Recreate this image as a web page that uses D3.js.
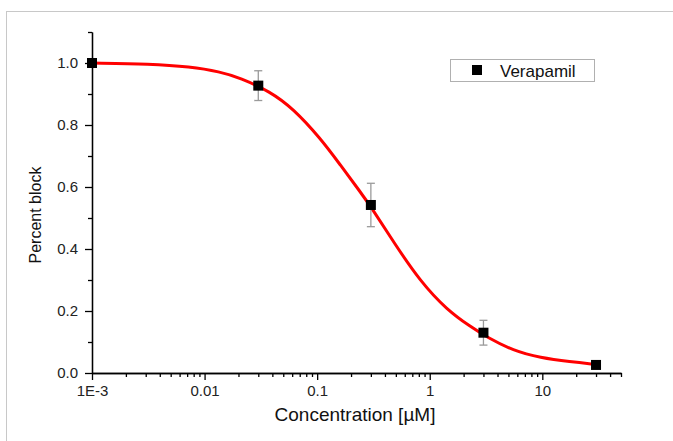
<!DOCTYPE html>
<html>
  <head>
    <meta charset="utf-8">
    <title>Verapamil block</title>
    <script src="https://d3js.org/d3.v7.min.js"></script>
    <style>
      body { margin: 0; background: #fff; }
      svg { font-family: "Liberation Sans", Arial, sans-serif; }
      .axis path, .axis line { stroke: #000; stroke-width: 1.3; }
      .axis text { font-size: 15px; fill: #222; }
      .title { font-size: 16px; fill: #111; }
    </style>
  </head>
  <body>
    <svg id="chart" width="673" height="441"></svg>
    <script>
      // measured points
      const conc = [0.001, 0.03, 0.3, 3, 30];
      const block = [1.0, 0.927, 0.542, 0.13, 0.026];
      const err = [0, 0.048, 0.07, 0.04, 0];
      // fitted curve
      const fitConc = [0.001, 0.0033, 0.0074, 0.0137, 0.0207, 0.0382, 0.0612, 0.1064, 0.16, 0.241, 0.315, 0.474, 0.824, 1.43, 2.29, 3.24, 5.52, 9.59, 17.7, 29.6];
      const fitBlock = [1.0, 0.997, 0.988, 0.972, 0.952, 0.908, 0.853, 0.758, 0.672, 0.585, 0.525, 0.424, 0.295, 0.203, 0.15, 0.115, 0.072, 0.049, 0.036, 0.028];
      // tick labels
      const xTicks = [0.001, 0.01, 0.1, 1, 10];
      const xTickLabels = ["1E-3", "0.01", "0.1", "1", "10"];
      const yTicks = [0, 0.2, 0.4, 0.6, 0.8, 1.0];

      const svg = d3.select("#chart");
      const margin = { left: 92, right: 52, top: 32, bottom: 68 };
      const width = 673, height = 441;

      // outer frame
      svg.append("rect")
        .attr("x", 6.5).attr("y", 11.5)
        .attr("width", 700).attr("height", 500)
        .attr("fill", "none").attr("stroke", "#c8c8c8");

      const x = d3.scaleLog()
        .domain([0.001, 50])
        .range([margin.left, width - margin.right]);
      const y = d3.scaleLinear()
        .domain([0, 1.1])
        .range([373, margin.top]);

      // minor ticks
      let xMinor = [];
      for (let e = -3; e <= 1; e++) {
        for (let m = 2; m <= 9; m++) {
          let v = m * Math.pow(10, e);
          if (v <= 50) xMinor.push(v);
        }
      }
      const yMinor = d3.range(1, 12, 2).map(function(d) { return d / 10; });

      svg.append("g")
        .attr("class", "axis")
        .attr("transform", "translate(0," + y(0) + ")")
        .call(d3.axisBottom(x).tickValues(xMinor).tickSize(4).tickFormat("").tickSizeOuter(0));
      svg.append("g")
        .attr("class", "axis")
        .attr("transform", "translate(0," + y(0) + ")")
        .call(d3.axisBottom(x).tickValues(xTicks).tickSize(7).tickPadding(5).tickSizeOuter(0)
          .tickFormat(function(d, i) { return xTickLabels[i]; }));
      svg.append("g")
        .attr("class", "axis")
        .attr("transform", "translate(" + margin.left + ",0)")
        .call(d3.axisLeft(y).tickValues(yMinor).tickSize(4).tickFormat("").tickSizeOuter(0));
      svg.append("g")
        .attr("class", "axis")
        .attr("transform", "translate(" + margin.left + ",0)")
        .call(d3.axisLeft(y).tickValues(yTicks).tickSize(7).tickPadding(7).tickSizeOuter(0)
          .tickFormat(d3.format(".1f")));

      // axis titles
      svg.append("text")
        .attr("class", "title")
        .attr("x", 355).attr("y", 421)
        .attr("text-anchor", "middle")
        .style("font-size", "19px")
        .text("Concentration [µM]");
      svg.append("text")
        .attr("class", "title")
        .attr("transform", "translate(41,215) rotate(-90)")
        .attr("text-anchor", "middle")
        .text("Percent block");

      // fit line
      const fit = fitConc.map(function(c, i) { return { c: c, b: fitBlock[i] }; });
      svg.append("path")
        .datum(fit)
        .attr("fill", "none")
        .attr("stroke", "#ff0000")
        .attr("stroke-width", 3)
        .attr("d", d3.line()
          .x(function(d) { return x(d.c); })
          .y(function(d) { return y(d.b); })
          .curve(d3.curveBasis));

      // error bars and markers
      const pts = conc.map(function(c, i) { return { c: c, b: block[i], e: err[i] }; });
      const bars = svg.append("g").selectAll("g")
        .data(pts.filter(function(d) { return d.e > 0; }))
        .enter().append("g")
        .attr("stroke", "#9a9a9a")
        .attr("stroke-width", 1.3);
      bars.append("line")
        .attr("x1", function(d) { return x(d.c); })
        .attr("x2", function(d) { return x(d.c); })
        .attr("y1", function(d) { return y(d.b + d.e); })
        .attr("y2", function(d) { return y(d.b - d.e); });
      [1, -1].forEach(function(s) {
        bars.append("line")
          .attr("x1", function(d) { return x(d.c) - 4; })
          .attr("x2", function(d) { return x(d.c) + 4; })
          .attr("y1", function(d) { return y(d.b + s * d.e); })
          .attr("y2", function(d) { return y(d.b + s * d.e); });
      });
      svg.append("g").selectAll("rect")
        .data(pts)
        .enter().append("rect")
        .attr("x", function(d) { return x(d.c) - 5; })
        .attr("y", function(d) { return y(d.b) - 5; })
        .attr("width", 10).attr("height", 10)
        .attr("fill", "#000");

      // legend
      const legend = svg.append("g");
      legend.append("rect")
        .attr("x", 450.5).attr("y", 59.5)
        .attr("width", 144).attr("height", 22)
        .attr("fill", "#fff").attr("stroke", "#b0b0b0");
      legend.append("rect")
        .attr("x", 472).attr("y", 65)
        .attr("width", 10).attr("height", 10)
        .attr("fill", "#000");
      legend.append("text")
        .attr("class", "title")
        .attr("x", 500).attr("y", 77)
        .style("font-size", "17px")
        .text("Verapamil");
    </script>
  </body>
</html>
